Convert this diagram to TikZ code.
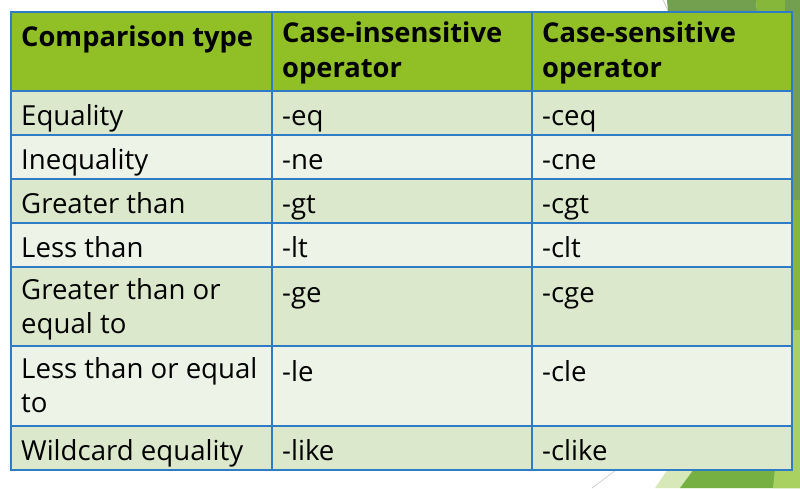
\documentclass[tikz,border=0pt]{standalone}
\usepackage{fontspec}
\setmainfont{Open Sans}
\usepackage{xcolor}
\usepackage{tikz}

\definecolor{headgreen}{HTML}{90C026}
\definecolor{rowdark}{HTML}{DCE8CC}
\definecolor{rowlight}{HTML}{EEF3E8}
\definecolor{gridblue}{HTML}{2E7BC6}
\definecolor{decomuted}{HTML}{72A04F}
\definecolor{decobright}{HTML}{87B73A}
\definecolor{decopale}{HTML}{D8E9B9}
\definecolor{decomid}{HTML}{76B043}
\definecolor{decolime}{HTML}{A9D162}
\definecolor{decoline}{HTML}{D0D0D0}

\begin{document}
\begin{tikzpicture}[x=1pt,y=-1pt]
    \tikzstyle{cell} = [anchor=north west,inner sep=0pt,align=left,font=\fontsize{27.6}{34}\selectfont,execute at begin node=\strut]
    \tikzstyle{head} = [cell,font=\fontsize{27.3}{35}\selectfont\bfseries]
    \tikzstyle{grid} = [draw=gridblue,line width=1.2pt]
    \useasboundingbox (0,0) rectangle (800,488);

    % slide decoration behind the table
    \draw[decoline,line width=0.8pt] (663,0) -- (675,25);
    \draw[decoline,line width=0.8pt] (592,488) -- (640,452);
    \fill[decomuted] (667,0) -- (756,0) -- (780,250) -- (690,250) -- cycle;
    \fill[decobright] (756,0) -- (800,0) -- (800,330) -- (780,330) -- cycle;
    \fill[decomuted] (785,0) -- (800,0) -- (800,200) -- (785,200) -- cycle;
    \fill[decopale] (655,488) -- (715,400) -- (800,400) -- (800,488) -- cycle;
    \fill[decomid] (680,488) -- (745,400) -- (800,400) -- (800,488) -- cycle;
    \fill[decolime] (773,488) -- (790,330) -- (800,330) -- (800,488) -- cycle;

    % rows
    \fill[headgreen] (11,12) rectangle (792,91);
    \fill[rowdark] (11,91) rectangle (792,135);
    \fill[rowlight] (11,135) rectangle (792,179);
    \fill[rowdark] (11,179) rectangle (792,223);
    \fill[rowlight] (11,223) rectangle (792,267);
    \fill[rowdark] (11,267) rectangle (792,346);
    \fill[rowlight] (11,346) rectangle (792,426);
    \fill[rowdark] (11,426) rectangle (792,470);

    % grid
    \foreach \y in {91,135,179,223,267,346,426}
        \draw[grid] (11,\y) -- (792,\y);
    \foreach \x in {272,532}
        \draw[grid] (\x,12) -- (\x,470);
    \draw[grid] (11,12) rectangle (792,470);

    % header
    \node[head] (hType) at (21,22) {Comparison type};
    \node[head] (hInsens) at (282,22) {Case-insensitive\\operator};
    \node[head] (hSens) at (542,22) {Case-sensitive\\operator};

    % body
    \node[cell] (tEq) at (21,101) {Equality};
    \node[cell] (iEq) at (282,101) {-eq};
    \node[cell] (sEq) at (542,101) {-ceq};

    \node[cell] (tNe) at (21,145) {Inequality};
    \node[cell] (iNe) at (282,145) {-ne};
    \node[cell] (sNe) at (542,145) {-cne};

    \node[cell] (tGt) at (21,189) {Greater than};
    \node[cell] (iGt) at (282,189) {-gt};
    \node[cell] (sGt) at (542,189) {-cgt};

    \node[cell] (tLt) at (21,233) {Less than};
    \node[cell] (iLt) at (282,233) {-lt};
    \node[cell] (sLt) at (542,233) {-clt};

    \node[cell] (tGe) at (21,278) {Greater than or\\equal to};
    \node[cell] (iGe) at (282,278) {-ge};
    \node[cell] (sGe) at (542,278) {-cge};

    \node[cell] (tLe) at (21,357) {Less than or equal\\to};
    \node[cell] (iLe) at (282,357) {-le};
    \node[cell] (sLe) at (542,357) {-cle};

    \node[cell] (tLike) at (21,436) {Wildcard equality};
    \node[cell] (iLike) at (282,436) {-like};
    \node[cell] (sLike) at (542,436) {-clike};
\end{tikzpicture}
\end{document}
